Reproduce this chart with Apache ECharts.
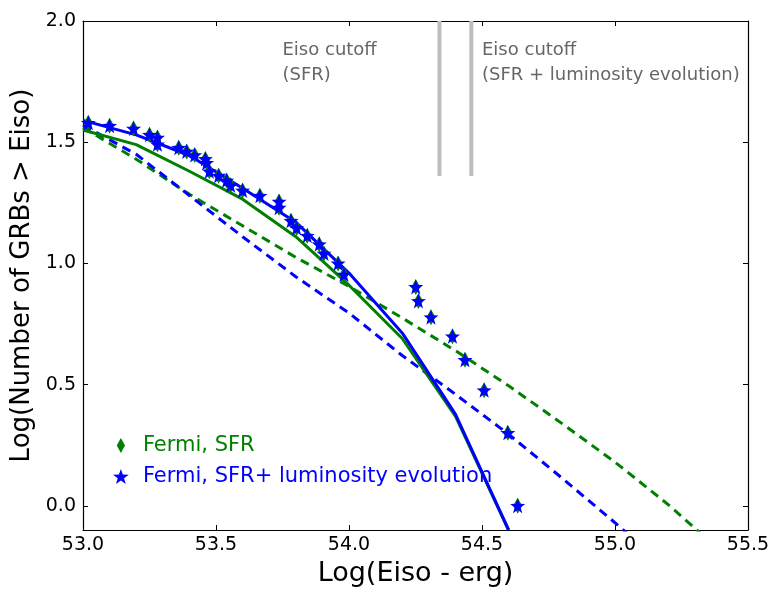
<!DOCTYPE html>
<html>
<head>
<meta charset="utf-8">
<script src="https://cdn.jsdelivr.net/npm/echarts@6/dist/echarts.min.js"></script>
<style>
  html, body { margin: 0; padding: 0; background: #ffffff; }
  #chart { width: 773px; height: 592px; }
</style>
</head>
<body>
<div id="chart"></div>
<script>
// Fermi bursts: log10(Eiso / erg) and log10 of the cumulative count above it
const obsLogE = [53.02, 53.10, 53.19, 53.25, 53.28, 53.28, 53.36, 53.39, 53.42, 53.46,
                 53.465, 53.475, 53.51, 53.54, 53.555, 53.60, 53.665, 53.737, 53.737, 53.782,
                 53.803, 53.843, 53.888, 53.906, 53.959, 53.981, 54.251, 54.261, 54.308, 54.389,
                 54.436, 54.508, 54.597, 54.634];
const obsLogN = [1.580, 1.568, 1.556, 1.531, 1.519, 1.491, 1.477, 1.462, 1.447, 1.431,
                 1.415, 1.380, 1.362, 1.342, 1.322, 1.301, 1.279, 1.255, 1.230, 1.176,
                 1.146, 1.114, 1.079, 1.041, 1.000, 0.954, 0.903, 0.845, 0.778, 0.699,
                 0.602, 0.477, 0.301, 0.000];

// Model predictions, sampled every 0.2 dex in Eiso
const modelLogE = [53.0, 53.2, 53.4, 53.6, 53.8, 54.0, 54.2, 54.4, 54.6, 54.8, 55.0, 55.2, 55.4];
const sfrSolid   = [1.55, 1.49, 1.38, 1.265, 1.11, 0.91, 0.69, 0.37, -0.10];
const lumSolid   = [1.59, 1.53, 1.445, 1.31, 1.17, 0.96, 0.713, 0.378, -0.10];
const sfrDashed  = [1.56, 1.43, 1.285, 1.155, 1.025, 0.905, 0.775, 0.64, 0.495, 0.34, 0.18, 0.005, -0.19];
const lumDashed  = [1.57, 1.45, 1.28, 1.11, 0.945, 0.795, 0.62, 0.46, 0.295, 0.115, -0.07, -0.26];

// Eiso cutoffs (vertical markers hanging from the top of the frame)
const cutoffSFR = 54.34;
const cutoffLum = 54.46;
const cutoffLow = 1.36;
const cutoffTop = 2.0;

const xTicks = [53.0, 53.5, 54.0, 54.5, 55.0, 55.5];
const yTicks = [0.0, 0.5, 1.0, 1.5, 2.0];

const GREEN = '#008000';
const BLUE = '#0000ff';
const FONT = '"DejaVu Sans", "Liberation Sans", sans-serif';
const STAR = 'path://M0,-10 L2.35,-3.24 L9.51,-3.09 L3.8,1.24 L5.88,8.09 L0,4 L-5.88,8.09 L-3.8,1.24 L-9.51,-3.09 L-2.35,-3.24 Z';
const THIN_DIAMOND = 'path://M0,-10 L5.5,0 L0,10 L-5.5,0 Z';

const pairs = (xs, ys) => ys.map((y, i) => [xs[i], y]);

const axisCommon = {
  type: 'value',
  axisLine: { show: true, onZero: false, lineStyle: { color: '#000', width: 1.2 } },
  splitLine: { show: false }
};

const chart = echarts.init(document.getElementById('chart'), null, { renderer: 'canvas' });

chart.setOption({
  animation: false,
  backgroundColor: '#ffffff',
  grid: { left: 83, right: 25, top: 21, bottom: 58 },
  xAxis: [
    Object.assign({}, axisCommon, {
      position: 'bottom', min: 53.0, max: 55.5,
      name: 'Log(Eiso - erg)', nameLocation: 'middle', nameGap: 30,
      nameTextStyle: { fontFamily: FONT, fontSize: 27, color: '#000' },
      axisTick: { show: true, inside: true, length: 5, customValues: xTicks, lineStyle: { color: '#000' } },
      axisLabel: { show: true, margin: 6, customValues: xTicks, fontFamily: FONT, fontSize: 19, color: '#000',
                   formatter: v => v.toFixed(1) }
    }),
    Object.assign({}, axisCommon, {
      position: 'top', min: 53.0, max: 55.5,
      axisTick: { show: true, inside: true, length: 5, customValues: xTicks, lineStyle: { color: '#000' } },
      axisLabel: { show: false }
    })
  ],
  yAxis: [
    Object.assign({}, axisCommon, {
      position: 'left', min: -0.1, max: 2.0,
      name: 'Log(Number of GRBs > Eiso)', nameLocation: 'middle', nameGap: 24,
      nameTextStyle: { fontFamily: FONT, fontSize: 26, color: '#000' },
      axisTick: { show: true, inside: true, length: 5, customValues: yTicks, lineStyle: { color: '#000' } },
      axisLabel: { show: true, margin: 7, customValues: yTicks, fontFamily: FONT, fontSize: 19, color: '#000',
                   formatter: v => v.toFixed(1) }
    }),
    Object.assign({}, axisCommon, {
      position: 'right', min: -0.1, max: 2.0,
      axisTick: { show: true, inside: true, length: 5, customValues: yTicks, lineStyle: { color: '#000' } },
      axisLabel: { show: false }
    })
  ],
  legend: {
    orient: 'vertical', left: 108, top: 430, itemGap: 10,
    itemWidth: 34, itemHeight: 15,
    textStyle: { fontFamily: FONT, fontSize: 21, lineHeight: 21 },
    data: [
      { name: 'Fermi, SFR', icon: THIN_DIAMOND, textStyle: { color: GREEN } },
      { name: 'Fermi, SFR+ luminosity evolution', icon: STAR, textStyle: { color: BLUE } }
    ]
  },
  series: [
    {
      name: 'cutoff SFR', type: 'line', silent: true, symbol: 'none', z: 1,
      data: [[cutoffSFR, cutoffLow], [cutoffSFR, cutoffTop]],
      lineStyle: { color: '#bdbdbd', width: 4 }
    },
    {
      name: 'cutoff luminosity', type: 'line', silent: true, symbol: 'none', z: 1,
      data: [[cutoffLum, cutoffLow], [cutoffLum, cutoffTop]],
      lineStyle: { color: '#bdbdbd', width: 4 }
    },
    {
      name: 'cutoff labels', type: 'scatter', silent: true, symbolSize: 0, z: 1,
      data: [[53.75, 1.827, 'Eiso cutoff\n(SFR)'], [54.5, 1.827, 'Eiso cutoff\n(SFR + luminosity evolution)']],
      label: {
        show: true, position: [0, 0], align: 'left', verticalAlign: 'middle',
        fontFamily: FONT, fontSize: 18, lineHeight: 25, color: '#404040',
        formatter: p => p.data[2]
      }
    },
    {
      name: 'SFR model (dashed)', type: 'line', symbol: 'none', z: 2,
      data: pairs(modelLogE, sfrDashed),
      lineStyle: { color: GREEN, width: 3, type: [9, 6] }
    },
    {
      name: 'luminosity model (dashed)', type: 'line', symbol: 'none', z: 2,
      data: pairs(modelLogE, lumDashed),
      lineStyle: { color: BLUE, width: 3, type: [9, 6] }
    },
    {
      name: 'SFR model', type: 'line', symbol: 'none', z: 2,
      data: pairs(modelLogE, sfrSolid),
      lineStyle: { color: GREEN, width: 3 }
    },
    {
      name: 'luminosity model', type: 'line', symbol: 'none', z: 2,
      data: pairs(modelLogE, lumSolid),
      lineStyle: { color: BLUE, width: 3 }
    },
    {
      name: 'Fermi, SFR', type: 'scatter', z: 3,
      symbol: THIN_DIAMOND, symbolSize: [9, 16],
      itemStyle: { color: GREEN, opacity: 1 },
      data: pairs(obsLogE, obsLogN)
    },
    {
      name: 'Fermi, SFR+ luminosity evolution', type: 'scatter', z: 4,
      symbol: STAR, symbolSize: 15,
      itemStyle: { color: BLUE, opacity: 1 },
      data: pairs(obsLogE, obsLogN)
    }
  ]
});
</script>
</body>
</html>
